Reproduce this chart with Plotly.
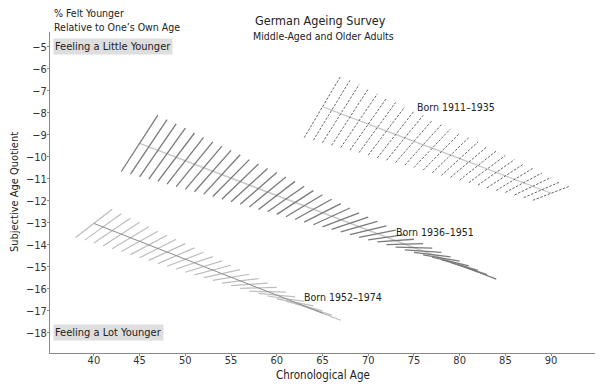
import plotly.graph_objects as go

# ---- Data ----
# Born 1911-1935
c1_age = list(range(65, 91))
c1_mean = [-7.73, -7.89, -8.04, -8.20, -8.36, -8.52, -8.67, -8.83, -8.99, -9.14,
           -9.30, -9.46, -9.61, -9.77, -9.93, -10.09, -10.24, -10.40, -10.56, -10.71,
           -10.87, -11.03, -11.18, -11.34, -11.50, -11.66]
c1_slope = [0.70, 0.68, 0.66, 0.64, 0.61, 0.59, 0.57, 0.55, 0.53, 0.51,
            0.48, 0.46, 0.44, 0.42, 0.40, 0.38, 0.35, 0.33, 0.31, 0.29,
            0.27, 0.25, 0.22, 0.20, 0.18, 0.16]

# Born 1936-1951
c2_age = list(range(45, 83))
c2_mean = [-9.39, -9.55, -9.71, -9.86, -10.02, -10.18, -10.34, -10.50, -10.65, -10.81,
           -10.97, -11.13, -11.29, -11.44, -11.60, -11.76, -11.92, -12.08, -12.23, -12.39,
           -12.55, -12.71, -12.87, -13.02, -13.18, -13.34, -13.50, -13.66, -13.81, -13.97,
           -14.13, -14.29, -14.45, -14.60, -14.76, -14.92, -15.08, -15.24]
c2_slope = [0.64, 0.62, 0.60, 0.58, 0.55, 0.53, 0.51, 0.49, 0.47, 0.45,
            0.42, 0.40, 0.38, 0.36, 0.34, 0.32, 0.29, 0.27, 0.25, 0.23,
            0.21, 0.19, 0.16, 0.14, 0.12, 0.10, 0.08, 0.06, 0.03, 0.01,
            -0.01, -0.03, -0.05, -0.07, -0.10, -0.12, -0.14, -0.16]

# Born 1952-1974
c3_age = list(range(40, 66))
c3_mean = [-13.03, -13.19, -13.36, -13.52, -13.68, -13.85, -14.01, -14.17, -14.33, -14.50,
           -14.66, -14.82, -14.99, -15.15, -15.31, -15.48, -15.64, -15.80, -15.96, -16.13,
           -16.29, -16.45, -16.62, -16.78, -16.94, -17.11]
c3_slope = [0.32, 0.30, 0.28, 0.27, 0.25, 0.23, 0.22, 0.21, 0.19, 0.18,
            0.16, 0.14, 0.13, 0.11, 0.09, 0.07, 0.05, 0.03, 0.01, -0.01,
            -0.04, -0.06, -0.08, -0.11, -0.13, -0.16]

x_ticks = [40, 45, 50, 55, 60, 65, 70, 75, 80, 85, 90]
y_ticks = [-5, -6, -7, -8, -9, -10, -11, -12, -13, -14, -15, -16, -17, -18]

HALF = 2.0  # half-width (years) of each local-slope segment
FONT = "Liberation Sans Narrow, DejaVu Sans Condensed, Arial Narrow, Liberation Sans, sans-serif"


def segments(ages, means, slopes):
    xs, ys = [], []
    for a, m, s in zip(ages, means, slopes):
        xs += [a - HALF, a + HALF, None]
        ys += [m - HALF * s, m + HALF * s, None]
    return xs, ys


fig = go.Figure()

# Cohort 1
fig.add_trace(go.Scatter(x=c1_age, y=c1_mean, mode="lines",
                         line=dict(color="#c4c4c4", width=1.2), hoverinfo="skip"))
sx, sy = segments(c1_age, c1_mean, c1_slope)
fig.add_trace(go.Scatter(x=sx, y=sy, mode="lines",
                         line=dict(color="#555555", width=0.9, dash="2.5px,1.5px"), hoverinfo="skip"))

# Cohort 2
fig.add_trace(go.Scatter(x=c2_age, y=c2_mean, mode="lines",
                         line=dict(color="#c8c8c8", width=1.5), hoverinfo="skip"))
sx, sy = segments(c2_age, c2_mean, c2_slope)
fig.add_trace(go.Scatter(x=sx, y=sy, mode="lines",
                         line=dict(color="#7a7a7a", width=1.3), hoverinfo="skip"))

# Cohort 3
sx, sy = segments(c3_age, c3_mean, c3_slope)
fig.add_trace(go.Scatter(x=sx, y=sy, mode="lines",
                         line=dict(color="#bdbdbd", width=1.2), hoverinfo="skip"))
fig.add_trace(go.Scatter(x=c3_age, y=c3_mean, mode="lines",
                         line=dict(color="#8c8c8c", width=1), hoverinfo="skip"))

axis_common = dict(showgrid=False, zeroline=False, showline=True, linecolor="#8a8a8a",
                   linewidth=1, ticks="outside", ticklen=2, tickcolor="#8a8a8a",
                   tickfont=dict(family=FONT, size=11, color="#333"))

# The page body has an 8px margin; the figure is sized so that it fits the window.
fig.update_layout(
    width=597, height=379,
    margin=dict(l=42, r=10, t=24, b=34),
    paper_bgcolor="white", plot_bgcolor="white",
    showlegend=False,
    font=dict(family=FONT, color="#222"),
    xaxis=dict(range=[35.2, 94.8], tickvals=x_ticks, ticklabelstandoff=-5, **axis_common),
    yaxis=dict(range=[-18.92, -4.33], tickvals=y_ticks, ticklabelstandoff=-2, **axis_common),
)

ann = [
    dict(text="% Felt Younger", x=0.004, y=1.059, xref="paper", yref="paper",
         xanchor="left", yanchor="middle", showarrow=False, font=dict(size=10.5)),
    dict(text="Relative to One’s Own Age", x=0.004, y=1.016, xref="paper", yref="paper",
         xanchor="left", yanchor="middle", showarrow=False, font=dict(size=10.5)),
    dict(text="German Ageing Survey", x=(320 - 50) / 545, y=1.037, xref="paper", yref="paper",
         xanchor="center", yanchor="middle", showarrow=False, font=dict(size=12.5)),
    dict(text="Middle-Aged and Older Adults", x=(323 - 50) / 545, y=0.988, xref="paper", yref="paper",
         xanchor="center", yanchor="middle", showarrow=False, font=dict(size=10.5)),
    dict(text="Feeling a Little Younger", x=0.005, y=-5, xref="paper", yref="y",
         xanchor="left", yanchor="middle", showarrow=False, bgcolor="#dedede",
         borderpad=1, font=dict(size=11)),
    dict(text="Feeling a Lot Younger", x=0.005, y=-18, xref="paper", yref="y",
         xanchor="left", yanchor="middle", showarrow=False, bgcolor="#dedede",
         borderpad=1, font=dict(size=11)),
    dict(text="Born 1911–1935", x=79.6, y=-7.74, xref="x", yref="y",
         showarrow=False, font=dict(size=10.5)),
    dict(text="Born 1936–1951", x=77.3, y=-13.42, xref="x", yref="y",
         showarrow=False, font=dict(size=10.5)),
    dict(text="Born 1952–1974", x=67.2, y=-16.38, xref="x", yref="y",
         showarrow=False, font=dict(size=10.5)),
    dict(text="Chronological Age", x=(323 - 50) / 545, y=-0.068, xref="paper", yref="paper",
         xanchor="center", yanchor="middle", showarrow=False, font=dict(size=11.5)),
    dict(text="Subjective Age Quotient", x=-0.065, y=0.5, xref="paper", yref="paper",
         xanchor="center", yanchor="middle", textangle=-90, showarrow=False,
         font=dict(size=11)),
]
fig.update_layout(annotations=ann)

fig.write_html("out.html")
